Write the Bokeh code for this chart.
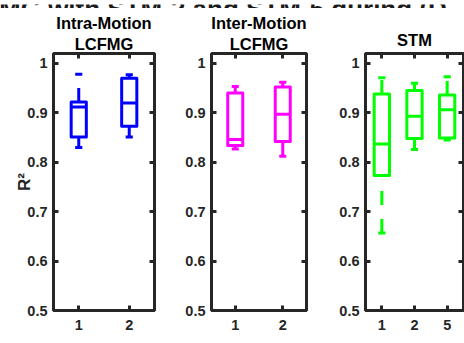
import numpy as np
from bokeh.plotting import figure
from bokeh.models import Range1d, FixedTicker, LinearAxis, Label, Title, ColumnDataSource
from bokeh.layouts import row, column
from bokeh.embed import file_html
from bokeh.resources import INLINE

# ---------------- data ----------------
y_ticks = [0.5, 0.6, 0.7, 0.8, 0.9, 1.0]
y_tick_labels = ["0.5", "0.6", "0.7", "0.8", "0.9", "1"]

intra_labels = ["1", "2"]
intra_lo = [0.830, 0.851]
intra_q1 = [0.851, 0.873]
intra_med = [0.912, 0.920]
intra_q3 = [0.922, 0.970]
intra_hi = [0.978, 0.977]

inter_labels = ["1", "2"]
inter_lo = [0.827, 0.812]
inter_q1 = [0.834, 0.842]
inter_med = [0.846, 0.897]
inter_q3 = [0.940, 0.952]
inter_hi = [0.953, 0.962]

stm_labels = ["1", "2", "5"]
stm_lo = [0.657, 0.826, 0.845]
stm_q1 = [0.773, 0.848, 0.849]
stm_med = [0.837, 0.893, 0.906]
stm_q3 = [0.938, 0.945, 0.936]
stm_hi = [0.971, 0.960, 0.973]

FONT = "Liberation Sans"
AX = "#262626"
TITLE_SIZE = "16.5px"


def panel(labels, lo, q1, med, q3, hi, color, box_w, width, border_right,
          title_lines, title_standoff, ylabel=None):
    n = len(labels)
    pos = np.arange(1, n + 1, dtype=float)
    cap_w = box_w * 0.47
    p = figure(width=width, height=335, title=None,
               x_range=Range1d(0.5, n + 0.5), y_range=Range1d(0.5, 1.02),
               output_backend="svg", toolbar_location=None,
               min_border_left=53, min_border_right=border_right,
               min_border_top=45, min_border_bottom=33)
    p.xgrid.grid_line_color = None
    p.ygrid.grid_line_color = None
    p.outline_line_color = AX
    p.outline_line_width = 3
    p.background_fill_color = "white"
    p.border_fill_color = "white"

    src = ColumnDataSource(dict(
        x=pos, lo=lo, q1=q1, med=med, q3=q3, hi=hi,
        left=pos - box_w / 2, right=pos + box_w / 2,
        cl=pos - cap_w / 2, cr=pos + cap_w / 2))
    kw = dict(line_color=color, line_width=3, source=src)
    p.segment(x0="x", y0="lo", x1="x", y1="q1", line_dash="14 14", **kw)
    p.segment(x0="x", y0="q3", x1="x", y1="hi", line_dash="14 14", **kw)
    p.segment(x0="cl", y0="lo", x1="cr", y1="lo", **kw)
    p.segment(x0="cl", y0="hi", x1="cr", y1="hi", **kw)
    p.quad(left="left", right="right", bottom="q1", top="q3",
           fill_color=None, line_join="round", **kw)
    p.segment(x0="left", y0="med", x1="right", y1="med", **kw)

    def style(ax, labels_on):
        ax.axis_line_color = None
        ax.major_tick_in = 5
        ax.major_tick_out = 0
        ax.major_tick_line_color = AX
        ax.major_tick_line_width = 3
        ax.minor_tick_line_color = None
        if labels_on:
            ax.major_label_text_font = FONT
            ax.major_label_text_font_style = "bold"
            ax.major_label_text_font_size = "14.5px"
            ax.major_label_text_color = AX
        else:
            ax.major_label_text_font_size = "0px"
            ax.major_label_text_color = None
            ax.major_label_standoff = 0

    yax = p.yaxis[0]
    yax.ticker = FixedTicker(ticks=y_ticks)
    yax.major_label_overrides = dict(zip(y_ticks, y_tick_labels))
    style(yax, True)
    yax.major_label_standoff = 6
    if ylabel:
        yax.axis_label = ylabel
        yax.axis_label_text_font = FONT
        yax.axis_label_text_font_style = "bold"
        yax.axis_label_text_font_size = "17px"
        yax.axis_label_text_color = AX
        yax.axis_label_standoff = -10

    xax = p.xaxis[0]
    xax.ticker = FixedTicker(ticks=list(pos))
    xax.major_label_overrides = dict(zip(pos, labels))
    style(xax, True)
    xax.major_label_standoff = 9

    rax = LinearAxis(ticker=FixedTicker(ticks=y_ticks))
    style(rax, False)
    p.add_layout(rax, "right")

    # top axis: inner ticks, and the title line nearest the frame
    tax = LinearAxis(ticker=FixedTicker(ticks=list(pos)))
    style(tax, False)
    tax.axis_label = title_lines[-1]
    tax.axis_label_text_font = FONT
    tax.axis_label_text_font_style = "bold"
    tax.axis_label_text_font_size = TITLE_SIZE
    tax.axis_label_text_color = "black"
    tax.axis_label_text_line_height = 1.0
    tax.axis_label_standoff = title_standoff
    p.add_layout(tax, "above")

    for t in reversed(title_lines[:-1]):
        p.add_layout(Title(text=t, align="center", text_font=FONT,
                           text_font_style="bold", text_font_size=TITLE_SIZE,
                           text_color="black", text_line_height=1.25,
                           standoff=0), "above")
    return p


p1 = panel(intra_labels, intra_lo, intra_q1, intra_med, intra_q3, intra_hi,
           "#0000FF", 0.30, 158, 4, ["Intra-Motion", "LCFMG"], 1, ylabel="R²")
p2 = panel(inter_labels, inter_lo, inter_q1, inter_med, inter_q3, inter_hi,
           "#FF00FF", 0.316, 154, 6, ["Inter-Motion", "LCFMG"], 1)
p3 = panel(stm_labels, stm_lo, stm_q1, stm_med, stm_q3, stm_hi,
           "#00FF00", 0.468, 152, 1, ["STM"], 5)

p2.add_layout(Label(x=1.5, y=-31, x_units="data", y_units="screen",
                    text="Number of Repetitions", text_align="center",
                    text_baseline="alphabetic", text_font=FONT,
                    text_font_style="bold", text_font_size="16.5px",
                    text_color=AX))

# cropped super-title strip at the very top
strip = figure(width=464, height=8, output_backend="svg", toolbar_location=None,
               title=None, x_axis_location=None, y_axis_location=None,
               min_border=0)
strip.outline_line_color = None
strip.xgrid.grid_line_color = None
strip.ygrid.grid_line_color = None
strip.add_layout(Label(x=-52, y=3.5, x_units="screen", y_units="screen",
                       text="LCFMG with STM-2 and STM-5 during (D",
                       text_align="left", text_baseline="alphabetic",
                       text_font=FONT, text_font_style="bold",
                       text_font_size="26px", text_color="#1a1a1a"))

layout = column(strip, row(p1, p2, p3))
open("out.html", "w").write(file_html(layout, INLINE))
